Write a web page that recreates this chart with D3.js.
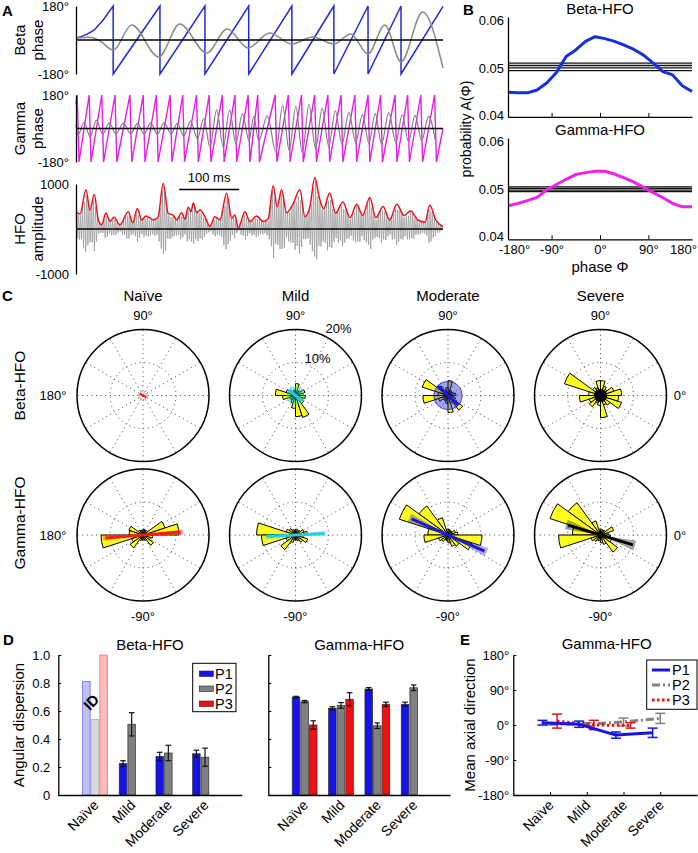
<!DOCTYPE html>
<html><head><meta charset="utf-8">
<script src="https://cdn.jsdelivr.net/npm/d3@7"></script>
<style>
body{margin:0;background:#fff}
svg{display:block}
</style></head><body>
<svg id="c" width="698" height="853"></svg>
<script>
// ---------------- DATA ----------------
// Panel A (time in ms, phase in degrees, amplitude)
const betaStart = [[0,10],[8,18],[18,30],[30,52],[45,105]];
const betaWraps = [62,140,215,288,360,430,487,542];
const betaEnd = [612,178];
const betaRaw = [[0,10],[23,15],[40,-5],[62,-53],[93,79],[138,-90],[173,85],[218,-69],[252,58],[287,-42],[323,37],[360,-21],[395,16],[430,-21],[458,32],[487,-74],[515,79],[542,-116],[578,148],[612,-148]];
const gammaStart = [0,130];
const gammaPeaks = [2,22,43,65,90,112,134,157,178,201,222,244,265,287,303,332,354,376,398,420,442,465,487,508,532,553,575,598];
const gammaAmp = [35,45,30,28,28,30,30,28,40,55,100,100,80,65,68,125,118,130,110,95,85,75,80,85,75,70,65,68];
const gammaEnd = [612,0];
const hfoEnv = [[0,383],[6.7,333],[16.7,870],[23.3,420],[30.5,767],[37.2,202],[42.8,93],[50,354],[56.7,165],[63.3,260],[73.3,93],[87.2,383],[94.5,137],[102.2,456],[109.5,202],[116.7,289],[128.8,202],[136.7,260],[145.5,1013],[153.8,348],[162.2,311],[167.8,202],[176.2,361],[181.7,217],[187.2,491],[191.7,383],[195.5,578],[201.2,361],[206.7,420],[215,274],[223.3,57],[231.7,274],[240,202],[251.2,796],[259.5,239],[265,311],[270.5,22],[281.7,383],[290,165],[301.2,289],[312.2,165],[320.5,230],[328.8,963],[335.5,491],[342.8,870],[351.2,361],[362.2,565],[373.3,870],[381.7,274],[390,491],[398.3,1143],[405.5,709],[413,450],[423,800],[433,350],[445,600],[457,250],[468,550],[478,300],[490,700],[500,250],[512,500],[523,200],[535,550],[547,300],[558,400],[570,200],[582,150],[590,530],[600,200],[612,50]];
const hfoCarrier = [0.95,0.55,1.0,0.7,0.85,0.5,0.9,0.65,0.8,0.6];

// Panel B
const phaseBins = [-171,-153,-135,-117,-99,-81,-63,-45,-27,-9,9,27,45,63,81,99,117,135,153,171];
const betaHFO = [0.0448,0.0447,0.0447,0.0453,0.0468,0.0490,0.0524,0.0538,0.0556,0.0566,0.0562,0.0556,0.0548,0.0539,0.0527,0.0510,0.0492,0.0485,0.0462,0.0450];
const gammaHFO = [0.0465,0.0470,0.0476,0.0483,0.0499,0.0510,0.0521,0.0531,0.0535,0.0538,0.0538,0.0532,0.0524,0.0515,0.0504,0.0493,0.0482,0.0470,0.0463,0.0463];
const betaSurr = [0.0510,0.0505,0.0500,0.0494];
const gammaSurr = [0.0505,0.0502,0.0498,0.0495];

// Panel C (rose: 20 bins of 18° starting at 0°, values in %)
const conditions = ["Naïve","Mild","Moderate","Severe"];
const roseBetaNaive = [0,0,0,0,0,0,0,0,0,0,0,0,0,0,0,0,0,0,0,0];
const roseBetaMild = [2.4,3.0,1.8,1.5,3.6,1.8,1.5,1.8,3.0,6.1,3.9,1.8,1.8,2.4,3.9,6.4,7.0,3.0,2.4,3.0];
const roseBetaModerate = [2.4,1.8,1.5,1.8,4.5,2.4,1.8,3.6,8.2,3.0,7.6,3.0,1.8,1.8,2.4,5.2,2.4,5.5,2.4,1.8];
const roseBetaSevere = [6.4,4.2,2.4,3.0,4.5,4.5,2.4,3.0,11.5,3.6,6.4,3.6,4.2,2.4,3.0,6.7,3.0,3.6,6.7,5.5];
const roseGammaNaive = [10.9,7.0,1.8,1.5,1.8,1.5,1.5,1.8,4.5,4.2,12.7,3.6,4.8,1.8,1.5,1.5,1.8,3.9,2.4,3.0];
const roseGammaMild = [3.6,2.7,1.8,1.5,1.8,1.5,1.8,2.4,3.0,11.8,10.3,3.0,5.5,2.4,1.5,1.5,1.8,2.7,3.9,2.4];
const roseGammaModerate = [3.0,2.4,1.5,1.5,1.8,1.8,5.5,10.9,15.5,6.1,7.3,3.0,2.4,1.5,1.8,2.4,3.6,4.2,7.6,10.3];
const roseGammaSevere = [2.4,4.2,1.8,1.5,1.8,1.8,4.5,12.1,16.1,8.5,12.7,3.0,2.4,1.8,1.8,2.4,3.0,6.4,3.6,3.0];
const meanBetaAngle = [-30,-40,-43,-20];
const meanBetaLen = [1.2,2.6,4.3,1.9];
const meanBetaCI = [180,180,180,180];
const meanGammaAngle = [4.5,3,-24,-17];
const meanGammaLen = [11.5,8.8,12.1,10.3];
const meanGammaCI = [4,6,6,8];
const condColors = ["#ff1a1a","#1cd0e6","#1a1ad9","#000000"];

// Panel D
const series = ["P1","P2","P3"];
const seriesColors = ["#1414e6","#808080","#ee1111"];
const betaDispP1 = [0.81,0.225,0.275,0.295];
const betaDispP2 = [0.54,0.505,0.30,0.27];
const betaDispP3 = [1.0,null,null,null];
const betaErrP1 = [null,0.02,0.03,0.025];
const betaErrP2 = [null,0.083,0.055,0.065];
const betaErrP3 = [null,null,null,null];
const betaInsufficient = [true,false,false,false];
const gammaDispP1 = [0.70,0.62,0.757,0.648];
const gammaDispP2 = [0.667,0.64,0.495,0.766];
const gammaDispP3 = [0.50,0.684,0.648,null];
const gammaErrP1 = [0.005,0.01,0.01,0.015];
const gammaErrP2 = [0.008,0.02,0.02,0.02];
const gammaErrP3 = [0.03,0.047,0.015,null];
const dispTicks = [0,0.2,0.4,0.6,0.8,1.0];

// Panel E
const axialP1 = [6,2,-26,-20];
const axialP2 = [3,2,8,17];
const axialP3 = [10,0,-1,null];
const axialErrP1 = [6,8,8,12];
const axialErrP2 = [3,4,10,13];
const axialErrP3 = [18,12,7,null];
const axialTicks = [-180,-90,0,90,180];

// ---------------- DRAW ----------------
const FF = '"Liberation Sans", Arial, Helvetica, sans-serif';
const svg = d3.select("#c").attr("font-family", FF);
svg.append("rect").attr("width",698).attr("height",853).attr("fill","#fff");

function label(x,y,s,o={}){
  const t = svg.append("text").attr("x",x).attr("y",y).text(s)
    .attr("font-size",o.fs||15).attr("text-anchor",o.anchor||"middle").attr("fill","#000");
  if(o.bold) t.attr("font-weight","bold");
  if(o.rot!=null) t.attr("transform",`rotate(${o.rot},${x},${y})`);
  return t;
}
function styleAxis(g,fs=13){
  g.attr("font-family",FF).attr("font-size",fs);
  g.selectAll("text").attr("fill","#000");
  g.selectAll("path.domain").attr("stroke","#000").attr("stroke-width",1.3);
  g.selectAll(".tick line").attr("stroke","#000").attr("stroke-width",1);
  return g;
}

// ===== Panel A =====
const xA = d3.scaleLinear([0,612],[76,443]);
const yBeta = d3.scaleLinear([-180,180],[74,6]);
const yGam = d3.scaleLinear([-180,180],[162,95]);
const yHfo = d3.scaleLinear([-1000,1000],[274,184]);
const gA = svg.append("g");

function zero(y){
  gA.append("line").attr("x1",xA(0)).attr("x2",xA(612)).attr("y1",y(0)).attr("y2",y(0))
    .attr("stroke","#000").attr("stroke-width",1.4);
}
const betaPhase = [...betaStart];
betaWraps.forEach(w=>betaPhase.push([w,180],[w,-180]));
betaPhase.push(betaEnd);
gA.append("path").attr("d",d3.line().x(d=>xA(d[0])).y(d=>yBeta(d[1]))(betaPhase))
  .attr("fill","none").attr("stroke","#1f2ed2").attr("stroke-width",1.5);
gA.append("path").attr("d",d3.line().x(d=>xA(d[0])).y(d=>yBeta(d[1])).curve(d3.curveMonotoneX)(betaRaw))
  .attr("fill","none").attr("stroke","#8a8a8a").attr("stroke-width",1.5);
zero(yBeta);

const GFALL = 3;
const gamPhase = [gammaStart];
gammaPeaks.forEach(p=>{gamPhase.push([p,180]);gamPhase.push([p+GFALL,-180]);});
gamPhase.push(gammaEnd);
gA.append("path").attr("d",d3.line().x(d=>xA(d[0])).y(d=>yGam(d[1]))(gamPhase))
  .attr("fill","none").attr("stroke","#e61ee6").attr("stroke-width",1.4);
const gamRaw = [[0,20]];
gammaPeaks.forEach((p,i)=>{
  const next = i<gammaPeaks.length-1 ? gammaPeaks[i+1] : 624;
  gamRaw.push([p+1.5,-gammaAmp[i]]);
  const mid = (p+GFALL+next)/2;
  if(mid<=612) gamRaw.push([mid,gammaAmp[i]]);
});
gA.append("path").attr("d",d3.line().x(d=>xA(d[0])).y(d=>yGam(d[1])).curve(d3.curveMonotoneX)(gamRaw))
  .attr("fill","none").attr("stroke","#808080").attr("stroke-width",1.2);
zero(yGam);

const env = d3.scaleLinear(hfoEnv.map(d=>d[0]),hfoEnv.map(d=>d[1])).clamp(true);
const hfoRaw = d3.range(0,612,1.8).map((t,k)=>[t,(k%2?-1:1)*env(t)*hfoCarrier[k%hfoCarrier.length]]);
gA.append("path").attr("d",d3.line().x(d=>xA(d[0])).y(d=>yHfo(d[1]))(hfoRaw))
  .attr("fill","none").attr("stroke","#9a9a9a").attr("stroke-width",0.8);
zero(yHfo);
gA.append("path").attr("d",d3.line().x(d=>xA(d[0])).y(d=>yHfo(d[1])).curve(d3.curveMonotoneX)(hfoEnv))
  .attr("fill","none").attr("stroke","#e8141c").attr("stroke-width",1.5);

styleAxis(svg.append("g").attr("transform",`translate(${xA(0)},0)`)
  .call(d3.axisLeft(yBeta).tickValues([-180,180]).tickFormat(d=>d+"°").tickSize(0).tickPadding(7)));
styleAxis(svg.append("g").attr("transform",`translate(${xA(0)},0)`)
  .call(d3.axisLeft(yGam).tickValues([-180,180]).tickFormat(d=>d+"°").tickSize(0).tickPadding(7)));
styleAxis(svg.append("g").attr("transform",`translate(${xA(0)},0)`)
  .call(d3.axisLeft(yHfo).tickValues([-1000,1000]).tickFormat(d=>String(d)).tickSize(0).tickPadding(7)));
label(25,yBeta(0),"Beta",{rot:-90});
label(43,yBeta(0),"phase",{rot:-90});
label(25,yGam(0),"Gamma",{rot:-90});
label(43,yGam(0),"phase",{rot:-90});
label(25,yHfo(0),"HFO",{rot:-90});
label(43,yHfo(0),"amplitude",{rot:-90});
svg.append("line").attr("x1",xA(172)).attr("x2",xA(272)).attr("y1",189.5).attr("y2",189.5)
  .attr("stroke","#000").attr("stroke-width",1.5);
label(xA(222),182,"100 ms",{fs:13});
label(2,16,"A",{bold:true,anchor:"start",fs:15});

// ===== Panel B =====
const xB = d3.scaleLinear([-171,171],[508,692]);
const yB1 = d3.scaleLinear([0.0396,0.0608],[116.9,16.9]);
const yB2 = d3.scaleLinear([0.03945,0.0608],[239.3,138]);
function panelB(y, curve, surr, color, showX, title, titleY){
  const g = svg.append("g");
  surr.forEach(v=>{
    g.append("path").attr("d",d3.line().x(d=>xB(d)).y(()=>y(v))(phaseBins))
      .attr("fill","none").attr("stroke","#111").attr("stroke-width",1.3);
  });
  g.append("path").attr("d",d3.line().x((d,i)=>xB(phaseBins[i])).y(d=>y(d))(curve))
    .attr("fill","none").attr("stroke",color).attr("stroke-width",3).attr("stroke-linejoin","round");
  styleAxis(svg.append("g").attr("transform",`translate(${xB(-171)},0)`)
    .call(d3.axisLeft(y).tickValues([0.04,0.05,0.06]).tickFormat(d3.format(".2f")).tickSize(0).tickPadding(4)));
  const ax = svg.append("g").attr("transform",`translate(0,${y.range()[0]})`)
    .call(d3.axisBottom(xB).tickValues([-171,-90,0,90,171]).tickSizeInner(-4).tickSizeOuter(0).tickPadding(5)
      .tickFormat(d=>showX ? (d===-171?"-180°":d===171?"180°":d+"°") : ""));
  styleAxis(ax);
  ax.selectAll(".tick").filter(d=>Math.abs(d)===171).select("line").remove();
  ax.selectAll(".tick text").filter(d=>d===-171).attr("dx",6);
  ax.selectAll(".tick text").filter(d=>d===171).attr("dx",-9);
  label(600,titleY,title,{fs:15});
}
panelB(yB1,betaHFO,betaSurr,"#1430e0",false,"Beta-HFO",14);
panelB(yB2,gammaHFO,gammaSurr,"#ee22ee",true,"Gamma-HFO",135);
label(471,129,"probability A(Φ)",{rot:-90,fs:14});
label(600,272,"phase Φ",{fs:15});
label(463,15,"B",{bold:true,anchor:"start",fs:15});

// ===== Panel C =====
const rS = d3.scaleLinear([0,20],[0,66]);
const cxC = d3.scalePoint(conditions,[143,600.5]);
const cyC = d3.scalePoint(["beta","gamma"],[395.5,535]);
const roses = {beta:[roseBetaNaive,roseBetaMild,roseBetaModerate,roseBetaSevere],
               gamma:[roseGammaNaive,roseGammaMild,roseGammaModerate,roseGammaSevere]};
const means = {beta:[meanBetaAngle,meanBetaLen,meanBetaCI], gamma:[meanGammaAngle,meanGammaLen,meanGammaCI]};
const arc = d3.arc().innerRadius(0);
const rad = a=>a*Math.PI/180;
["beta","gamma"].forEach(row=>{
  conditions.forEach((c,ci)=>{
    const g = svg.append("g").attr("transform",`translate(${cxC(c)},${cyC(row)})`);
    d3.range(0,360,30).forEach(a=>{
      g.append("line").attr("x1",0).attr("y1",0)
        .attr("x2",rS(20)*Math.cos(rad(a))).attr("y2",-rS(20)*Math.sin(rad(a)))
        .attr("stroke","#333").attr("stroke-width",0.9).attr("stroke-dasharray","1,3.6");
    });
    g.append("circle").attr("r",rS(10)).attr("fill","none").attr("stroke","#333")
      .attr("stroke-width",0.9).attr("stroke-dasharray","1,3.6");
    roses[row][ci].forEach((v,i)=>{
      if(!v) return;
      const a0=i*18,a1=a0+18;
      g.append("path").attr("d",arc({outerRadius:rS(v),startAngle:rad(90-a1),endAngle:rad(90-a0)}))
        .attr("fill","#ffff1a").attr("stroke","#000").attr("stroke-width",1);
    });
    const [angs,lens,cis] = means[row];
    const th = angs[ci], L = rS(lens[ci]), ci2 = cis[ci], col = condColors[ci];
    if(ci2>=90){
      g.append("circle").attr("r",L).attr("fill",col).attr("fill-opacity",ci===3?0.85:(ci===0?0.15:0.4))
        .attr("stroke",ci===0?"#333":col).attr("stroke-opacity",0.7).attr("stroke-width",ci===0?0.7:1)
        .attr("stroke-dasharray",ci===0?"1.2,1.2":null);
    } else {
      [th,th+180].forEach(t=>{
        g.append("path").attr("d",arc({outerRadius:L*1.06,startAngle:rad(90-t-ci2),endAngle:rad(90-t+ci2)}))
          .attr("fill",col).attr("fill-opacity",0.35);
      });
    }
    g.append("line").attr("x1",-L*Math.cos(rad(th))).attr("y1",L*Math.sin(rad(th)))
      .attr("x2",L*Math.cos(rad(th))).attr("y2",-L*Math.sin(rad(th)))
      .attr("stroke",col).attr("stroke-width",ci===0&&row==="beta"?2:3);
    g.append("circle").attr("r",rS(20)).attr("fill","none").attr("stroke","#000").attr("stroke-width",1.5);
  });
});
conditions.forEach(c=>{
  label(cxC(c),301,c,{fs:15});
  label(cxC(c),320,"90°",{fs:13});
  label(cxC(c),621,"-90°",{fs:13});
});
label(53,400,"180°",{fs:13});
label(53,540,"180°",{fs:13});
label(680,400,"0°",{fs:13});
label(680,540,"0°",{fs:13});
label(cxC("Mild")+30,333,"20%",{fs:13,anchor:"start"});
label(cxC("Mild")+9,363,"10%",{fs:13,anchor:"start"});
label(25,cyC("beta")-10,"Beta-HFO",{rot:-90,fs:15.5});
label(25,cyC("gamma")-12,"Gamma-HFO",{rot:-90,fs:15.5});
label(2,301,"C",{bold:true,anchor:"start",fs:15});

// ===== Panel D =====
const yD = d3.scaleLinear([0,1],[795,655]);
const sub = d3.scaleBand(series,[-12.4,12.4]).paddingInner(0.12);
function catLabels(x){
  conditions.forEach((c,gi)=>label(x(gi+1)+4.5,806,c,{rot:-45,anchor:"end",fs:14}));
}
function barPanel(x0,x1,vals,errs,pale,title,showY){
  const x = d3.scaleLinear([0,5],[x0,x1]);
  const g = svg.append("g");
  series.forEach((s,si)=>{
    vals[si].forEach((v,gi)=>{
      if(v==null) return;
      const cx = x(gi+1);
      const isPale = pale && pale[gi];
      g.append("rect").attr("x",cx+sub(s)).attr("width",sub.bandwidth())
        .attr("y",yD(v)).attr("height",yD(0)-yD(v))
        .attr("fill",seriesColors[si]).attr("fill-opacity",isPale?0.28:1)
        .attr("stroke",isPale?seriesColors[si]:"#222").attr("stroke-opacity",isPale?0.55:0.8).attr("stroke-width",0.8);
      const e = errs[si][gi];
      if(e!=null){
        const bx = cx+sub(s)+sub.bandwidth()/2;
        g.append("line").attr("x1",bx).attr("x2",bx).attr("y1",yD(v-e)).attr("y2",yD(v+e)).attr("stroke","#111").attr("stroke-width",1.2);
        [v-e,v+e].forEach(w=>g.append("line").attr("x1",bx-2.8).attr("x2",bx+2.8).attr("y1",yD(w)).attr("y2",yD(w)).attr("stroke","#111").attr("stroke-width",1.2));
      }
    });
  });
  styleAxis(svg.append("g").attr("transform",`translate(${x0},0)`)
    .call(d3.axisLeft(yD).tickValues(dispTicks).tickSizeInner(-3).tickSizeOuter(0).tickPadding(8)
      .tickFormat(d=>showY?(d===0?"0":d.toFixed(1)):"")), 13);
  styleAxis(svg.append("g").attr("transform",`translate(0,${yD(0)})`)
    .call(d3.axisBottom(x).tickValues([]).tickSizeOuter(0)));
  catLabels(x);
  label((x0+x1)/2,650,title,{fs:15});
  return x;
}
const xD1 = barPanel(58.3,241.7,[betaDispP1,betaDispP2,betaDispP3],[betaErrP1,betaErrP2,betaErrP3],betaInsufficient,"Beta-HFO",true);
barPanel(268.3,450,[gammaDispP1,gammaDispP2,gammaDispP3],[gammaErrP1,gammaErrP2,gammaErrP3],null,"Gamma-HFO",false);
label(xD1(1),706,"ID",{rot:-45,fs:15,bold:true});
label(24,725,"Angular dispersion",{rot:-90,fs:15});
const lgD = svg.append("g");
lgD.append("rect").attr("x",192.7).attr("y",663.3).attr("width",43.3).attr("height",48.4).attr("fill","#fff").attr("stroke","#000").attr("stroke-width",1);
series.forEach((s,i)=>{
  lgD.append("rect").attr("x",199.3).attr("y",671+i*15).attr("width",14).attr("height",5.5).attr("fill",seriesColors[i]).attr("stroke","#222").attr("stroke-width",0.6);
  label(215,679+i*15,s,{anchor:"start",fs:14.5});
});
label(3,645,"D",{bold:true,anchor:"start",fs:15});

// ===== Panel E =====
const xE = d3.scaleLinear([0,5],[513.3,697]);
const yE = d3.scaleLinear([-180,180],[795,655]);
const eOff = [-7.6,0,7];
const eDash = [null,"8,3,2,3","2.5,2.5"];
const axialVals = [axialP1,axialP2,axialP3];
const axialErrs = [axialErrP1,axialErrP2,axialErrP3];
const gE = svg.append("g");
[1,2,0].forEach(si=>{
  const pts = axialVals[si].map((v,i)=>v==null?null:[xE(i+1)+eOff[si],yE(v)]).filter(d=>d);
  gE.append("path").attr("d",d3.line()(pts)).attr("fill","none").attr("stroke",seriesColors[si])
    .attr("stroke-width",3).attr("stroke-dasharray",eDash[si]);
  axialVals[si].forEach((v,i)=>{
    if(v==null) return;
    const e = axialErrs[si][i], bx = xE(i+1)+eOff[si];
    gE.append("line").attr("x1",bx).attr("x2",bx).attr("y1",yE(v-e)).attr("y2",yE(v+e)).attr("stroke",seriesColors[si]).attr("stroke-width",1.5);
    [v-e,v+e].forEach(w=>gE.append("line").attr("x1",bx-5).attr("x2",bx+5).attr("y1",yE(w)).attr("y2",yE(w)).attr("stroke",seriesColors[si]).attr("stroke-width",1.5));
  });
});
styleAxis(svg.append("g").attr("transform",`translate(${xE(0)},0)`)
  .call(d3.axisLeft(yE).tickValues(axialTicks).tickFormat(d=>d+"°").tickSizeInner(-3).tickSizeOuter(0).tickPadding(4)),13);
styleAxis(svg.append("g").attr("transform",`translate(0,${yE(-180)})`)
  .call(d3.axisBottom(xE).tickValues([1,2,3,4]).tickFormat("").tickSizeInner(-3).tickSizeOuter(0)));
catLabels(xE);
label(606.7,649,"Gamma-HFO",{fs:15});
label(475,725,"Mean axial direction",{rot:-90,fs:15});
const lgE = svg.append("g");
lgE.append("rect").attr("x",646.7).attr("y",660).attr("width",50.3).attr("height",49.3).attr("fill","#fff").attr("stroke","#000").attr("stroke-width",1);
series.forEach((s,i)=>{
  lgE.append("line").attr("x1",652).attr("x2",670).attr("y1",670+i*15).attr("y2",670+i*15)
    .attr("stroke",seriesColors[i]).attr("stroke-width",3).attr("stroke-dasharray",eDash[i]);
  label(672,675+i*15,s,{anchor:"start",fs:14.5});
});
label(460,645,"E",{bold:true,anchor:"start",fs:15});
</script>
</body></html>
